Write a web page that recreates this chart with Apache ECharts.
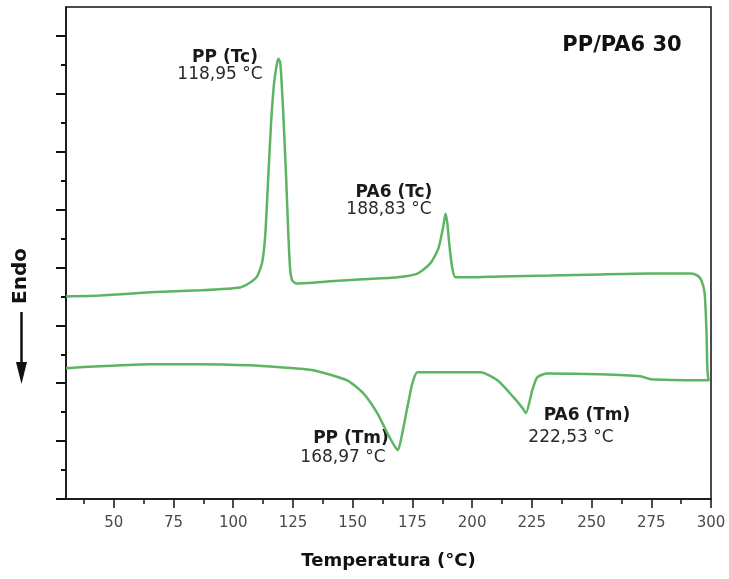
<!DOCTYPE html>
<html><head><meta charset="utf-8">
<script src="https://cdn.jsdelivr.net/npm/echarts@6/dist/echarts.min.js"></script>
<style>html,body{margin:0;padding:0;background:#fff}#c{width:729px;height:579px}</style>
</head><body><div id="c"></div>
<script>
// Cooling scan (upper curve): temperature (°C) and heat flow (arbitrary units)
const coolingT = [30, 44.2, 65.2, 86.1, 102.9, 107.1, 110.0, 112.1, 113.4, 114.6, 115.9, 117.2, 118.4, 118.95, 119.7, 120.9, 122.2, 123.0, 123.8, 124.7, 126.4, 140.6, 154.4, 168.7, 177.1, 182.5, 185.9, 188.0, 188.83, 189.6, 190.5, 191.7, 193.0, 199.3, 211.8, 232.8, 253.7, 274.7, 291.4, 294.4, 296.0, 297.3, 298.1, 298.5, 299.0];
const coolingV = [7.00, 7.03, 7.14, 7.21, 7.31, 7.48, 7.69, 8.17, 9.10, 11.0, 13.07, 14.45, 15.07, 15.21, 15.07, 13.41, 11.0, 9.28, 7.97, 7.55, 7.45, 7.52, 7.59, 7.66, 7.79, 8.14, 8.66, 9.45, 9.86, 9.55, 8.76, 7.97, 7.66, 7.66, 7.69, 7.72, 7.76, 7.79, 7.79, 7.72, 7.55, 7.14, 5.83, 4.45, 4.07];
// Heating scan (lower curve)
const heatingT = [30, 44.2, 65.2, 86.1, 107.1, 119.7, 133.5, 147.7, 154.4, 160.3, 164.5, 167.8, 168.97, 170.8, 172.9, 175.0, 177.1, 182.5, 203.5, 210.6, 217.3, 221.1, 222.53, 225.2, 227.3, 231.5, 253.7, 270.5, 274.7, 299.0];
const heatingV = [4.52, 4.59, 4.66, 4.66, 4.62, 4.55, 4.45, 4.10, 3.66, 2.97, 2.28, 1.79, 1.69, 2.28, 3.17, 4.00, 4.38, 4.38, 4.38, 4.10, 3.52, 3.14, 2.97, 3.76, 4.21, 4.34, 4.31, 4.24, 4.14, 4.10];
// Axis ticks
const xTickLabels = [50, 75, 100, 125, 150, 175, 200, 225, 250, 275, 300];
const xMinorTicks = [37.5, 62.5, 87.5, 112.5, 137.5, 162.5, 187.5, 212.5, 237.5, 262.5, 287.5];
const yMajorTicks = [0, 2, 4, 6, 8, 10, 12, 14, 16];
const yMinorTicks = [1, 3, 5, 7, 9, 11, 13, 15];
// Text
const chartTitle = 'PP/PA6 30';
const xTitle = 'Temperatura (°C)';
const yTitle = 'Endo';
const peakNames = ['PP (Tc)', 'PA6 (Tc)', 'PP (Tm)', 'PA6 (Tm)'];
const peakValues = ['118,95 °C', '188,83 °C', '168,97 °C', '222,53 °C'];

const FONT = 'DejaVu Sans, sans-serif';
const GREEN = '#5cb563';
const INK = '#111';

const chart = echarts.init(document.getElementById('c'), null, {renderer: 'canvas'});

const namePos = [[225, 58], [394, 193], [351, 439], [587, 416]];
const valPos = [[220, 75], [389, 210], [343, 458], [571, 438]];

const graphics = [];
peakNames.forEach((t, i) => {
  graphics.push({type: 'text', x: namePos[i][0], y: namePos[i][1],
    style: {text: t, font: 'bold 17px ' + FONT, fill: '#1a1a1a', align: 'center', verticalAlign: 'middle'}});
  graphics.push({type: 'text', x: valPos[i][0], y: valPos[i][1],
    style: {text: peakValues[i], font: '17px ' + FONT, fill: '#2a2a2a', align: 'center', verticalAlign: 'middle'}});
});
graphics.push({type: 'text', x: 622, y: 46,
  style: {text: chartTitle, font: 'bold 21px ' + FONT, fill: '#111', align: 'center', verticalAlign: 'middle'}});
graphics.push({type: 'text', x: 21, y: 276, rotation: Math.PI / 2,
  style: {text: yTitle, font: 'bold 20px ' + FONT, fill: '#111', align: 'center', verticalAlign: 'middle'}});
graphics.push({type: 'line', shape: {x1: 21.5, y1: 312, x2: 21.5, y2: 368}, style: {stroke: INK, lineWidth: 2.5}});
graphics.push({type: 'polygon', shape: {points: [[16, 362], [27, 362], [21.5, 384]]}, style: {fill: INK}});

const axisLineStyle = {color: INK, width: 1.5};

chart.setOption({
  animation: false,
  backgroundColor: '#fff',
  grid: {left: 66, right: 18, top: 7, bottom: 80, show: true, borderColor: INK, borderWidth: 1.5, backgroundColor: 'transparent'},
  xAxis: [
    {type: 'value', min: 30, max: 300, position: 'bottom',
      axisLine: {onZero: false, lineStyle: axisLineStyle},
      axisTick: {customValues: xTickLabels, length: 9, lineStyle: axisLineStyle},
      axisLabel: {customValues: xTickLabels, margin: 17, fontSize: 15, color: '#4a4a4a', fontFamily: FONT},
      splitLine: {show: false},
      name: xTitle, nameLocation: 'middle', nameGap: 53,
      nameTextStyle: {fontWeight: 'bold', fontSize: 18, color: '#111', fontFamily: FONT}},
    {type: 'value', min: 30, max: 300, position: 'bottom',
      axisLine: {show: false, onZero: false},
      axisTick: {customValues: xMinorTicks, length: 5, lineStyle: axisLineStyle},
      axisLabel: {show: false}, splitLine: {show: false}}
  ],
  yAxis: [
    {type: 'value', min: 0, max: 17, position: 'left',
      axisLine: {onZero: false, lineStyle: axisLineStyle},
      axisTick: {customValues: yMajorTicks, length: 10, lineStyle: {color: INK, width: 2}},
      axisLabel: {show: false}, splitLine: {show: false}},
    {type: 'value', min: 0, max: 17, position: 'left',
      axisLine: {show: false, onZero: false},
      axisTick: {customValues: yMinorTicks, length: 5, lineStyle: {color: INK, width: 2}},
      axisLabel: {show: false}, splitLine: {show: false}}
  ],
  series: [
    {type: 'line', name: 'Cooling', xAxisIndex: 0, yAxisIndex: 0, showSymbol: false, symbol: 'none',
      smooth: 0.2,
      data: coolingT.map((t, i) => [t, coolingV[i]]),
      lineStyle: {color: GREEN, width: 2.5}},
    {type: 'line', name: 'Heating', xAxisIndex: 0, yAxisIndex: 0, showSymbol: false, symbol: 'none',
      smooth: 0.2,
      data: heatingT.map((t, i) => [t, heatingV[i]]),
      lineStyle: {color: GREEN, width: 2.5}}
  ],
  graphic: graphics
});
</script>
</body></html>
